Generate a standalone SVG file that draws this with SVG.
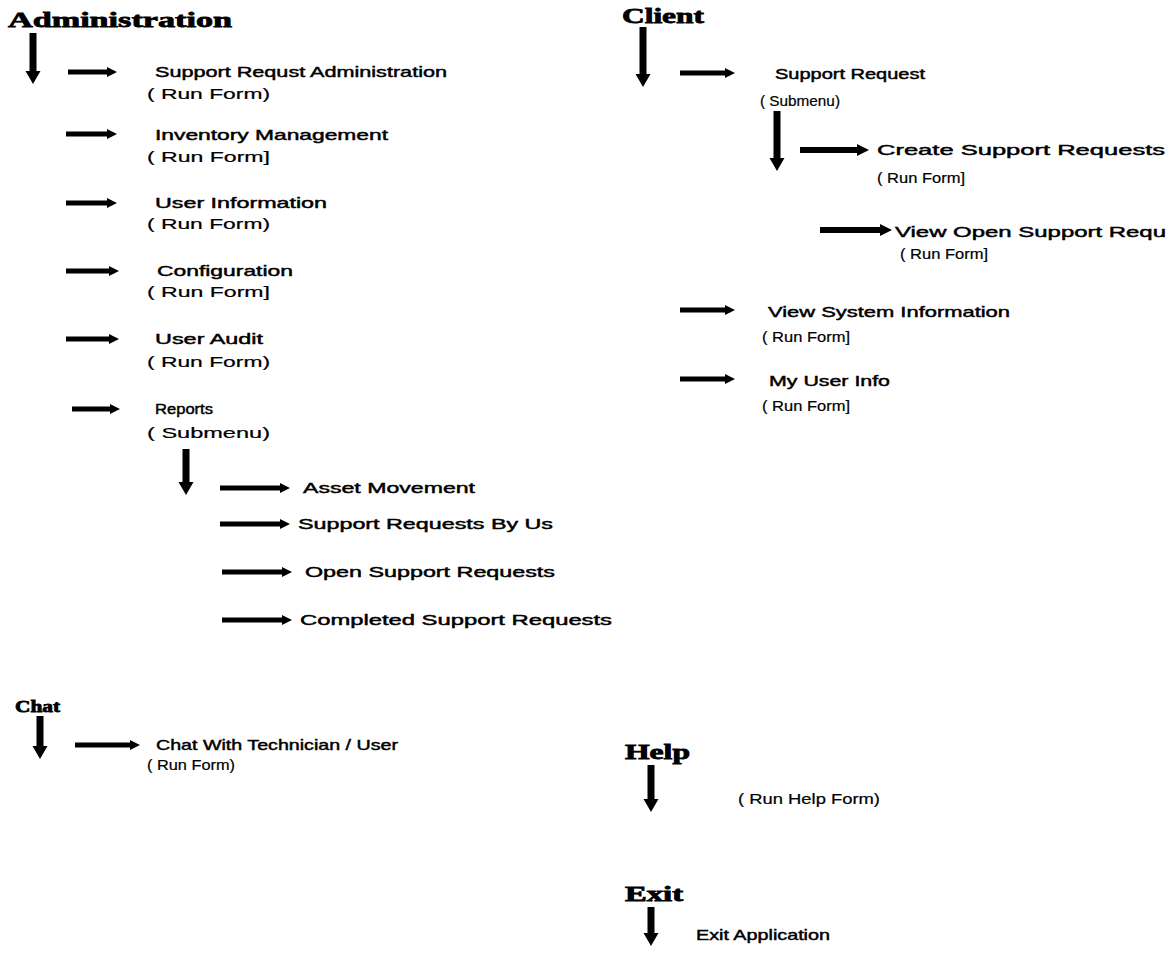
<svg xmlns="http://www.w3.org/2000/svg" width="1166" height="954" viewBox="0 0 1166 954">
<defs>
<style>
.h{font-family:"Liberation Serif",serif;font-weight:900;fill:#000;stroke:#000;stroke-width:0.8}
.t{font-family:"Liberation Sans",Arial,sans-serif;fill:#000;stroke:#000;stroke-width:0.45;font-size:15px}
.r{font-family:"Liberation Sans",Arial,sans-serif;fill:#000;stroke:#000;stroke-width:0.2;font-size:14px}
.ar{fill:#000}
</style>
</defs>
<rect width="1166" height="954" fill="#fff"/>

<g id="connectors" class="ar">
<!-- big down arrows -->
<path d="M29.5,33 h7 v38 h4 l-7.5,13 l-7.5,-13 h4 z"/>
<path d="M182.5,449 h7 v33 h4 l-7.5,13 l-7.5,-13 h4 z"/>
<path d="M36.5,716 h7 v30 h4 l-7.5,13 l-7.5,-13 h4 z"/>
<path d="M639.5,27 h7 v47 h4 l-7.5,13 l-7.5,-13 h4 z"/>
<path d="M773.5,111 h7 v47 h4 l-7.5,13 l-7.5,-13 h4 z"/>
<path d="M647.5,765 h7 v34 h4 l-7.5,13 l-7.5,-13 h4 z"/>
<path d="M647.5,907 h7 v26 h4 l-7.5,13 l-7.5,-13 h4 z"/>
<!-- small right arrows -->
<path d="M68,69.5 h39 v-2.5 l10,5 l-10,5 v-2.5 h-39 z"/>
<path d="M66,131.5 h41 v-2.5 l10,5 l-10,5 v-2.5 h-41 z"/>
<path d="M66,200.5 h41 v-2.5 l10,5 l-10,5 v-2.5 h-41 z"/>
<path d="M66,268.5 h43 v-2.5 l10,5 l-10,5 v-2.5 h-43 z"/>
<path d="M66,336.5 h43 v-2.5 l10,5 l-10,5 v-2.5 h-43 z"/>
<path d="M72,406.5 h38 v-2.5 l10,5 l-10,5 v-2.5 h-38 z"/>
<path d="M220,485.5 h60 v-2.5 l10,5 l-10,5 v-2.5 h-60 z"/>
<path d="M220,521.5 h60 v-2.5 l10,5 l-10,5 v-2.5 h-60 z"/>
<path d="M222,569.5 h60 v-2.5 l10,5 l-10,5 v-2.5 h-60 z"/>
<path d="M222,617.5 h60 v-2.5 l10,5 l-10,5 v-2.5 h-60 z"/>
<path d="M75,742.5 h55 v-2.5 l10,5 l-10,5 v-2.5 h-55 z"/>
<path d="M680,70.5 h45 v-2.5 l10,5 l-10,5 v-2.5 h-45 z"/>
<path d="M800,147 h57 v-3 l12,6 l-12,6 v-3 h-57 z"/>
<path d="M820,227 h60 v-3 l12,6 l-12,6 v-3 h-60 z"/>
<path d="M680,307.5 h45 v-2.5 l10,5 l-10,5 v-2.5 h-45 z"/>
<path d="M680,376.5 h45 v-2.5 l10,5 l-10,5 v-2.5 h-45 z"/>
</g>

<g id="administration">
<text class="h" x="8" y="27" font-size="22" textLength="224" lengthAdjust="spacingAndGlyphs">Administration</text>
</g>
<g id="support-request-admin">
<text class="t" x="155" y="77" textLength="292" lengthAdjust="spacingAndGlyphs">Support Requst Administration</text>
<text class="r" x="147" y="99" textLength="123" lengthAdjust="spacingAndGlyphs">( Run Form)</text>
</g>
<g id="inventory">
<text class="t" x="155" y="140" textLength="233" lengthAdjust="spacingAndGlyphs">Inventory Management</text>
<text class="r" x="147" y="162" textLength="123" lengthAdjust="spacingAndGlyphs">( Run Form]</text>
</g>
<g id="user-information">
<text class="t" x="155" y="208" textLength="172" lengthAdjust="spacingAndGlyphs">User Information</text>
<text class="r" x="147" y="229" textLength="123" lengthAdjust="spacingAndGlyphs">( Run Form)</text>
</g>
<g id="configuration">
<text class="t" x="157" y="276" textLength="136" lengthAdjust="spacingAndGlyphs">Configuration</text>
<text class="r" x="147" y="297" textLength="123" lengthAdjust="spacingAndGlyphs">( Run Form]</text>
</g>
<g id="user-audit">
<text class="t" x="155" y="344" textLength="108" lengthAdjust="spacingAndGlyphs">User Audit</text>
<text class="r" x="147" y="367" textLength="123" lengthAdjust="spacingAndGlyphs">( Run Form)</text>
</g>
<g id="reports">
<text class="t" x="155" y="414" textLength="58" lengthAdjust="spacingAndGlyphs">Reports</text>
<text class="r" x="147" y="438" textLength="123" lengthAdjust="spacingAndGlyphs">( Submenu)</text>
</g>
<g id="asset-movement"><text class="t" x="303" y="493" textLength="172" lengthAdjust="spacingAndGlyphs">Asset Movement</text></g>
<g id="sr-by-user"><text class="t" x="298" y="529" textLength="255" lengthAdjust="spacingAndGlyphs">Support Requests By Us</text></g>
<g id="open-sr"><text class="t" x="305" y="577" textLength="250" lengthAdjust="spacingAndGlyphs">Open Support Requests</text></g>
<g id="completed-sr"><text class="t" x="300" y="625" textLength="312" lengthAdjust="spacingAndGlyphs">Completed Support Requests</text></g>

<g id="chat">
<text class="h" x="15" y="712" font-size="17" textLength="45" lengthAdjust="spacingAndGlyphs">Chat</text>
</g>
<g id="chat-tech">
<text class="t" x="156" y="750" font-size="13" textLength="242" lengthAdjust="spacingAndGlyphs">Chat With Technician / User</text>
<text class="r" x="147" y="770" font-size="13" textLength="88" lengthAdjust="spacingAndGlyphs">( Run Form)</text>
</g>

<g id="client">
<text class="h" x="622" y="23" font-size="22" textLength="82" lengthAdjust="spacingAndGlyphs">Client</text>
</g>
<g id="support-request">
<text class="t" x="775" y="79" font-size="18" textLength="150" lengthAdjust="spacingAndGlyphs">Support Request</text>
<text class="r" x="760" y="106" font-size="15" textLength="80" lengthAdjust="spacingAndGlyphs">( Submenu)</text>
</g>
<g id="create-sr">
<text class="t" x="877" y="155" font-size="16" textLength="288" lengthAdjust="spacingAndGlyphs">Create Support Requests</text>
<text class="r" x="877" y="183" font-size="15" textLength="88" lengthAdjust="spacingAndGlyphs">( Run Form]</text>
</g>
<g id="view-open-sr">
<text class="t" x="895" y="237" font-size="17" textLength="271" lengthAdjust="spacingAndGlyphs">View Open Support Requ</text>
<text class="r" x="900" y="259" font-size="15" textLength="88" lengthAdjust="spacingAndGlyphs">( Run Form]</text>
</g>
<g id="view-system-info">
<text class="t" x="768" y="317" font-size="17" textLength="242" lengthAdjust="spacingAndGlyphs">View System Information</text>
<text class="r" x="762" y="342" font-size="15" textLength="88" lengthAdjust="spacingAndGlyphs">( Run Form]</text>
</g>
<g id="my-user-info">
<text class="t" x="769" y="386" font-size="17" textLength="121" lengthAdjust="spacingAndGlyphs">My User Info</text>
<text class="r" x="762" y="411" font-size="15" textLength="88" lengthAdjust="spacingAndGlyphs">( Run Form]</text>
</g>

<g id="help">
<text class="h" x="625" y="759" font-size="20" textLength="65" lengthAdjust="spacingAndGlyphs">Help</text>
<text class="r" x="738" y="804" font-size="15" textLength="142" lengthAdjust="spacingAndGlyphs">( Run Help Form)</text>
</g>
<g id="exit">
<text class="h" x="625" y="901" font-size="20" textLength="58" lengthAdjust="spacingAndGlyphs">Exit</text>
<text class="t" x="696" y="940" font-size="14" textLength="134" lengthAdjust="spacingAndGlyphs">Exit Application</text>
</g>
</svg>
